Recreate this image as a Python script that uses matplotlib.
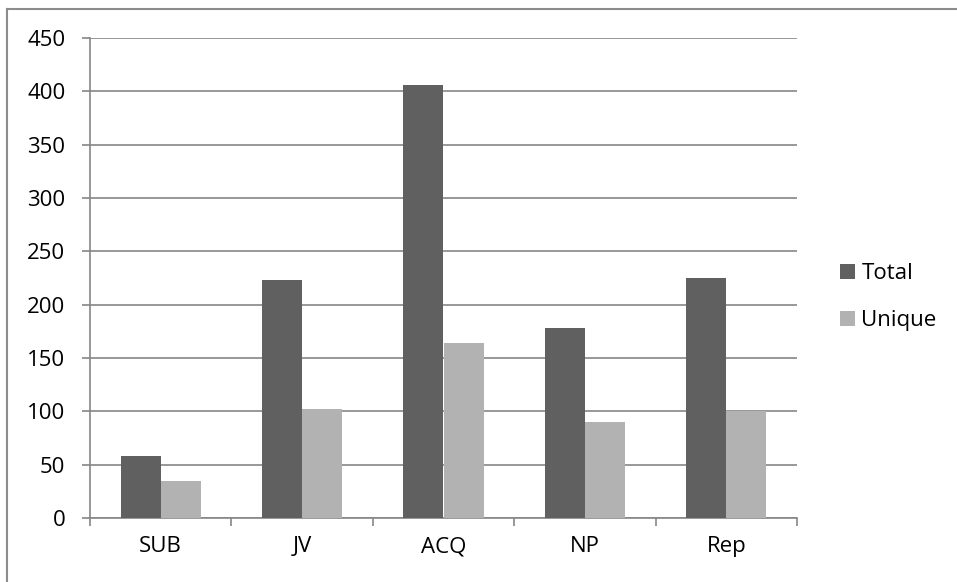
import matplotlib
matplotlib.use("Agg")
import matplotlib.pyplot as plt
import numpy as np
from matplotlib.lines import Line2D

categories = ["SUB", "JV", "ACQ", "NP", "Rep"]
total = [58, 223, 406, 178, 225]
unique = [35, 102, 164, 90, 100]
yticks = [0, 50, 100, 150, 200, 250, 300, 350, 400, 450]

plt.rcParams['font.family'] = ['Open Sans', 'DejaVu Sans']

W, H = 957, 582
fig = plt.figure(figsize=(W/100, H/100), dpi=100)
bc = "#8c8c8c"
fig.lines.append(Line2D([7.5/W, 7.5/W], [0, (H-8.5)/H], transform=fig.transFigure, color=bc, linewidth=1.5))
fig.lines.append(Line2D([7.5/W, 1], [(H-8.5)/H, (H-8.5)/H], transform=fig.transFigure, color=bc, linewidth=1.5))

ax = fig.add_axes([90/W, (H-518)/H, (797-90)/W, (518-38)/H])
x = np.arange(len(categories))
bw = 0.283
ax.bar(x - bw/2, total, bw, color="#606060", label="Total", zorder=3)
ax.bar(x + bw/2, unique, bw, color="#b2b2b2", label="Unique", zorder=3)

ax.set_xlim(-0.5, len(categories) - 0.5)
ax.set_ylim(0, 450)
ax.set_yticks(yticks)
ax.set_yticklabels([str(v) for v in yticks])
ax.set_xticks(x)
ax.set_xticklabels(categories)
ax.set_xticks(np.arange(len(categories) + 1) - 0.5, minor=True)
gc = "#868686"
ax.tick_params(axis='x', which='major', length=0, pad=13, labelsize=16)
ax.tick_params(axis='x', which='minor', length=5.8, direction='out', color=gc, width=1.2)
ax.tick_params(axis='y', length=5.8, direction='out', color=gc, width=1.2, labelsize=16, pad=12)
ax.grid(axis='y', color=gc, linewidth=1.2, zorder=0)
for s in ['top', 'right']:
    ax.spines[s].set_visible(False)
for s in ['left', 'bottom']:
    ax.spines[s].set_color(gc)
    ax.spines[s].set_linewidth(1.2)

leg = ax.legend(loc='center left', bbox_to_anchor=(1.033, 0.46), frameon=False,
                fontsize=16, handlelength=0.65, handleheight=0.65, handletextpad=0.3,
                labelspacing=1.15)

fig.savefig("out.png", dpi=100)
